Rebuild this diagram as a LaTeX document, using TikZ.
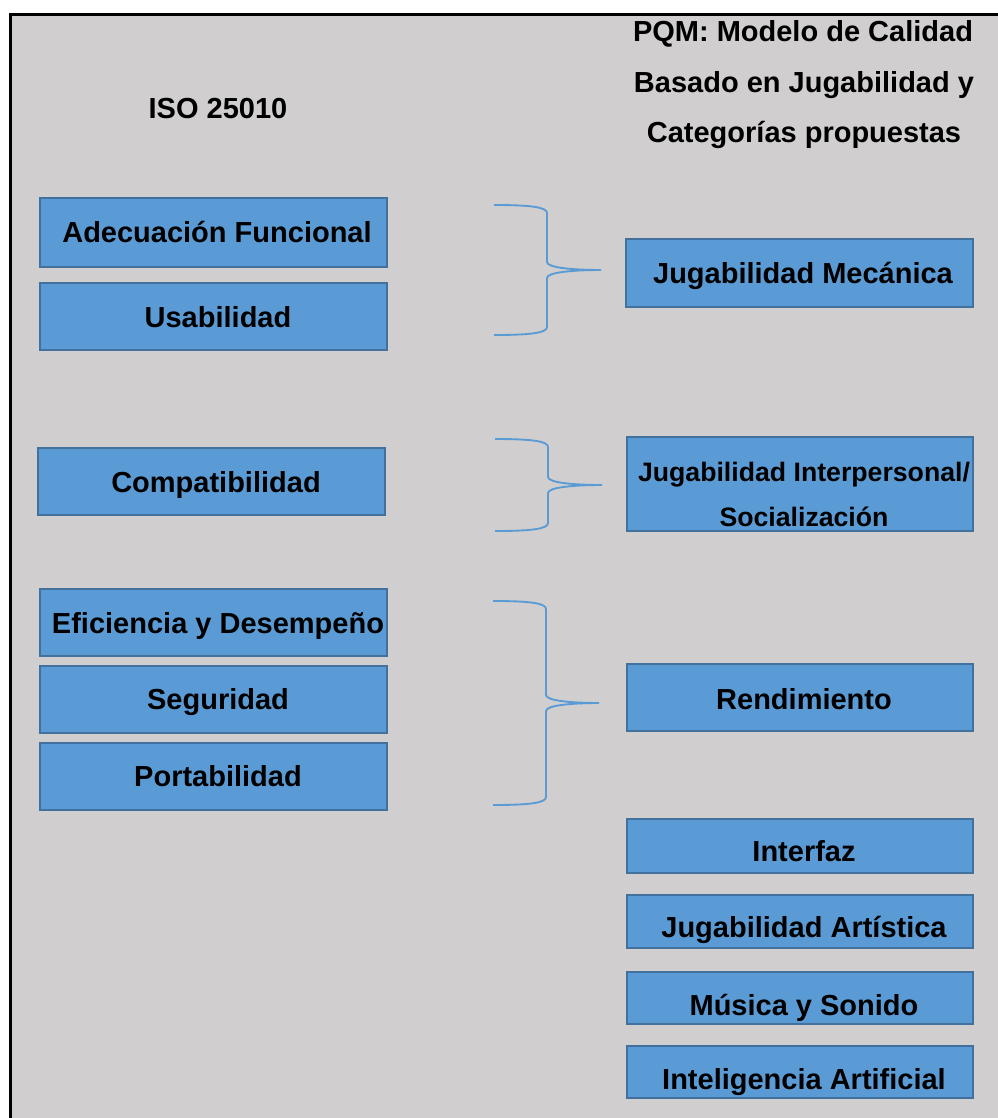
\documentclass[tikz,border=0pt]{standalone}
\usepackage{fontspec}
\setmainfont{Liberation Sans}
\usetikzlibrary{fit}
\definecolor{panel}{HTML}{D0CECE}
\definecolor{boxfill}{HTML}{5B9BD5}
\definecolor{boxline}{HTML}{41719C}
\definecolor{bracecol}{HTML}{5B9BD5}

% curly brace opening to the right:
% #1 name, #2 left x, #3 stem x, #4 tip x, #5 top y, #6 tip y, #7 bottom y
\newcommand\rightbrace[7]{%
  \coordinate (#1-top) at (#2,#5);
  \coordinate (#1-tip) at (#4,#6);
  \coordinate (#1-bot) at (#2,#7);
  \draw[bracket] (#1-top) .. controls (#2+36,#5) and (#3,#5+2) .. (#3,#5+8)
    -- (#3,#6-8) .. controls (#3,#6-2) and (#3+28,#6) .. (#1-tip)
    .. controls (#3+28,#6) and (#3,#6+2) .. (#3,#6+8)
    -- (#3,#7-8) .. controls (#3,#7-2) and (#2+36,#7) .. (#1-bot);
}

\begin{document}
\begin{tikzpicture}[x=0.75pt,y=-0.75pt,
  box/.style={draw=boxline, fill=boxfill, line width=1.9pt, inner sep=0pt},
  lbl/.style={anchor=base, inner sep=0pt, text=black,
    font=\bfseries\fontsize{21.75}{26}\selectfont},
  lblsmall/.style={lbl, font=\bfseries\fontsize{20}{24}\selectfont},
  bracket/.style={draw=bracecol, line width=1.4pt}]

\path[use as bounding box] (0,0) rectangle (998,1118);

% panel and frame
\fill[panel] (10,14) rectangle (998,1118);
\draw[black, line width=2.25pt] (10,1118) -- (10,14) -- (998,14);

% column headings
\node[lbl] (iso) at (218,118) {ISO 25010};
\node[lbl] (pqm1) at (803,41) {PQM: Modelo de Calidad};
\node[lbl] (pqm2) at (804,92) {Basado en Jugabilidad y};
\node[lbl] (pqm3) at (804,142) {Categorías propuestas};

% ISO 25010 characteristics
\node[box, fit={(40,198) (387,267)}] (adec) {};
\node[lbl] (adec-t) at (217,242) {Adecuación Funcional};
\node[box, fit={(40,283) (387,350)}] (usab) {};
\node[lbl] (usab-t) at (218,327) {Usabilidad};
\node[box, fit={(38,448) (385,515)}] (comp) {};
\node[lbl] (comp-t) at (216,492) {Compatibilidad};
\node[box, fit={(40,589) (387,656)}] (efic) {};
\node[lbl] (efic-t) at (218,633) {Eficiencia y Desempeño};
\node[box, fit={(40,666) (387,733)}] (segu) {};
\node[lbl] (segu-t) at (218,709) {Seguridad};
\node[box, fit={(40,743) (387,810)}] (port) {};
\node[lbl] (port-t) at (218,786) {Portabilidad};

% PQM categories
\node[box, fit={(626,239) (973,307)}] (mec) {};
\node[lbl] (mec-t) at (803,283) {Jugabilidad Mecánica};
\node[box, fit={(627,437) (973,531)}] (inter) {};
\node[lblsmall] (inter-t1) at (804,481) {Jugabilidad Interpersonal/};
\node[lblsmall] (inter-t2) at (804,526) {Socialización};
\node[box, fit={(627,664) (973,731)}] (rend) {};
\node[lbl] (rend-t) at (804,709) {Rendimiento};
\node[box, fit={(627,819) (973,873)}] (intf) {};
\node[lbl] (intf-t) at (804,861) {Interfaz};
\node[box, fit={(627,895) (973,948)}] (arte) {};
\node[lbl] (arte-t) at (804,937) {Jugabilidad Artística};
\node[box, fit={(627,972) (973,1024)}] (musi) {};
\node[lbl] (musi-t) at (804,1015) {Música y Sonido};
\node[box, fit={(627,1046) (973,1098)}] (ia) {};
\node[lbl] (ia-t) at (804,1089) {Inteligencia Artificial};

% grouping braces
\rightbrace{b1}{494}{547}{601}{205}{270}{335}
\rightbrace{b2}{495}{548}{602}{439}{485}{531}
\rightbrace{b3}{493}{546}{599}{601}{703}{805}

\end{tikzpicture}
\end{document}
